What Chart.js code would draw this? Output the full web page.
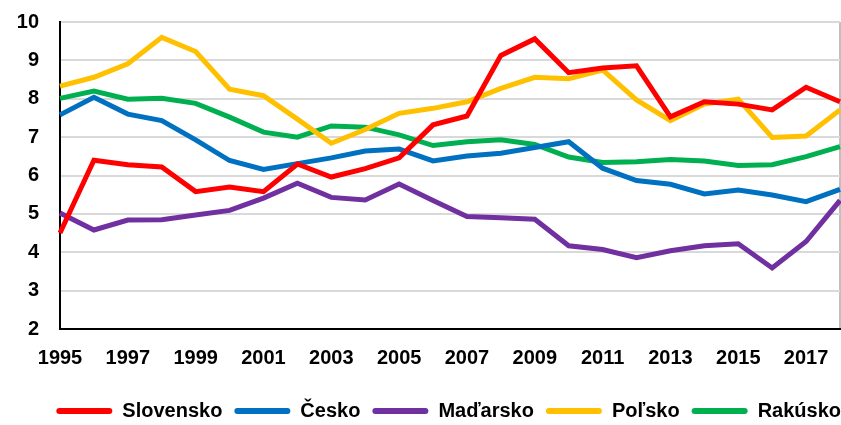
<!DOCTYPE html>
<html><head><meta charset="utf-8">
<script src="https://cdn.jsdelivr.net/npm/chart.js@4"></script>
<style>html,body{margin:0;padding:0;background:#fff}#wrap{width:841px;height:425px}</style>
</head><body><div id="wrap"><canvas id="c"></canvas></div>
<script>
const years = ['1995','1996','1997','1998','1999','2000','2001','2002','2003','2004','2005','2006','2007','2008','2009','2010','2011','2012','2013','2014','2015','2016','2017','2018'];
const slovensko = [4.50,6.40,6.28,6.22,5.58,5.70,5.58,6.30,5.96,6.18,6.46,7.32,7.55,9.13,9.56,8.68,8.80,8.86,7.53,7.92,7.86,7.71,8.30,7.92];
const cesko     = [7.58,8.04,7.60,7.43,6.93,6.39,6.16,6.31,6.46,6.64,6.69,6.38,6.51,6.58,6.73,6.88,6.19,5.87,5.77,5.52,5.62,5.49,5.32,5.64];
const madarsko  = [5.02,4.58,4.84,4.85,4.97,5.09,5.41,5.80,5.43,5.36,5.78,5.35,4.93,4.90,4.86,4.17,4.07,3.86,4.04,4.17,4.22,3.59,4.28,5.35];
const polsko    = [8.33,8.56,8.91,9.60,9.23,8.25,8.08,7.47,6.84,7.20,7.62,7.75,7.92,8.27,8.56,8.52,8.75,7.97,7.43,7.86,7.99,6.99,7.03,7.71];
const rakusko   = [8.01,8.20,7.99,8.01,7.88,7.52,7.13,7.00,7.29,7.26,7.06,6.78,6.88,6.93,6.81,6.48,6.34,6.36,6.42,6.38,6.26,6.28,6.49,6.75];
const names  = ['Slovensko','Česko','Maďarsko','Poľsko','Rakúsko'];
const colors = ['#ff0000','#0070c0','#7030a0','#ffc000','#00b050'];
const series = [slovensko, cesko, madarsko, polsko, rakusko];
const FONT = 'Liberation Sans';

const legendTweak = {
  id: 'legendTweak',
  beforeLayout(chart) {
    const lg = chart.legend;
    if (lg && !lg._patched) {
      const orig = lg.fit;
      lg.fit = function() { orig.call(this); this.height -= 4; };
      lg._patched = true;
    }
  },
  afterLayout(chart) {
    const lg = chart.legend;
    if (lg) { lg.left += 13; lg.right += 13; lg.top += 2; lg.bottom += 2; }
  }
};

new Chart(document.getElementById('c'), {
  type: 'line',
  data: {
    labels: years,
    datasets: series.map((d, i) => ({
      label: names[i], data: d, borderColor: colors[i], backgroundColor: colors[i],
      borderWidth: 5, pointRadius: 0, tension: 0, fill: false,
      borderJoinStyle: 'miter', borderCapStyle: 'butt'
    }))
  },
  plugins: [legendTweak],
  options: {
    responsive: true, maintainAspectRatio: false, animation: false,
    layout: { padding: { left: 0, right: 1, top: 22, bottom: 0 } },
    scales: {
      x: {
        offset: false,
        afterFit: s => { s.paddingRight = 0; s.paddingLeft = 0; },
        grid: {
          drawTicks: false,
          color: ctx => ctx.index === years.length - 1 ? '#bfbfbf' : 'rgba(0,0,0,0)',
          lineWidth: 2
        },
        border: { color: '#000', width: 2 },
        ticks: {
          autoSkip: false, maxRotation: 0, padding: 17, color: '#000',
          font: { family: FONT, size: 20, weight: 'bold' },
          callback: function(v, i) { return i % 2 === 0 && i < years.length - 1 ? years[i] : ''; }
        }
      },
      y: {
        min: 2, max: 10,
        afterFit: s => { s.width = 60; s.paddingTop = 0; s.paddingBottom = 0; },
        grid: { color: '#d9d9d9', lineWidth: 2, drawTicks: false },
        border: { color: '#000', width: 2 },
        ticks: { stepSize: 1, padding: 21, color: '#000', font: { family: FONT, size: 20, weight: 'bold' } }
      }
    },
    plugins: {
      tooltip: { enabled: false },
      legend: {
        position: 'bottom', align: 'end',
        labels: {
          color: '#000', boxWidth: 56, boxHeight: 6, padding: 12,
          font: { family: FONT, size: 20, weight: 'bold' },
          useBorderRadius: true, borderRadius: 3,
          generateLabels: chart => chart.data.datasets.map((ds, i) => ({
            text: ds.label, fillStyle: ds.borderColor, strokeStyle: ds.borderColor,
            lineWidth: 0, hidden: false, datasetIndex: i, fontColor: '#000', borderRadius: 3
          }))
        }
      }
    }
  }
});
</script></body></html>
